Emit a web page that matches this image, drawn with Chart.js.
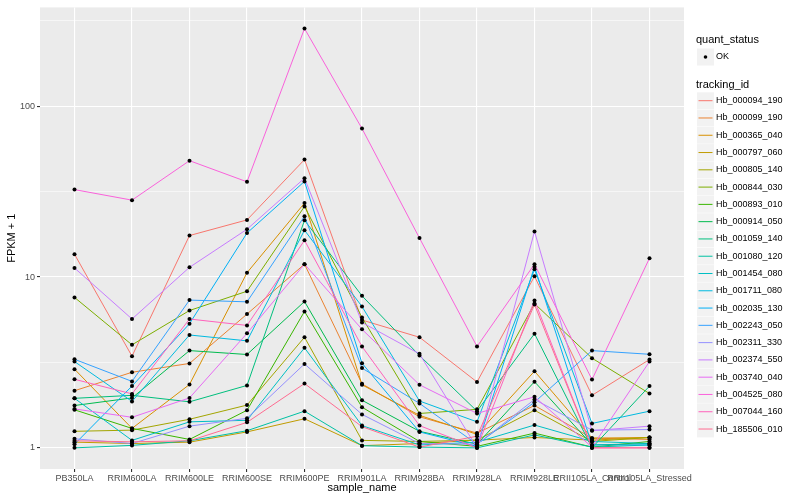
<!DOCTYPE html>
<html>
<head>
<meta charset="utf-8">
<script src="https://cdn.jsdelivr.net/npm/chart.js@4/dist/chart.umd.min.js"></script>
<style>
  html, body { margin: 0; padding: 0; background: #fff; }
  #wrap { width: 800px; height: 500px; position: relative; }
</style>
</head>
<body>
<div id="wrap"><canvas id="myChart"></canvas></div>
<script>
// categories on the x axis
const categories = [
  'PB350LA', 'RRIM600LA', 'RRIM600LE', 'RRIM600SE', 'RRIM600PE', 'RRIM901LA',
  'RRIM928BA', 'RRIM928LA', 'RRIM928LE', 'RRII105LA_Control', 'RRII105LA_Stressed'
];

const trackingIds = [
  'Hb_000094_190', 'Hb_000099_190', 'Hb_000365_040', 'Hb_000797_060', 'Hb_000805_140',
  'Hb_000844_030', 'Hb_000893_010', 'Hb_000914_050', 'Hb_001059_140', 'Hb_001080_120',
  'Hb_001454_080', 'Hb_001711_080', 'Hb_002035_130', 'Hb_002243_050', 'Hb_002311_330',
  'Hb_002374_550', 'Hb_003740_040', 'Hb_004525_080', 'Hb_007044_160', 'Hb_185506_010'
];

// FPKM + 1, one array per gene, in category order
const hb_000094_190 = [13.6, 3.44, 17.5, 21.6, 48.7, 5.6, 4.44, 2.43, 10.1, 2.03, 3.29];
const hb_000099_190 = [2.16, 2.77, 3.12, 6.07, 11.9, 2.37, 1.52, 1.22, 1.77, 1.14, 1.12];
const hb_000365_040 = [2.89, 1.30, 2.35, 10.6, 27.1, 2.34, 1.55, 1.20, 2.81, 1.14, 1.15];
const hb_000797_060 = [1.08, 1.06, 1.08, 1.24, 1.48, 1.03, 1.06, 1.11, 1.15, 1.11, 1.15];
const hb_000805_140 = [1.25, 1.27, 1.47, 1.78, 4.44, 1.106, 1.09, 1.11, 1.66, 1.09, 1.15];
const hb_000844_030 = [7.6, 4.01, 6.37, 8.26, 25.9, 5.8, 1.59, 1.68, 7.0, 3.35, 2.08];
const hb_000893_010 = [1.67, 1.30, 1.12, 1.66, 6.29, 1.73, 1.09, 1.02, 1.22, 1.01, 1.09];
const hb_000914_050 = [1.77, 1.96, 3.71, 3.52, 7.19, 1.90, 1.25, 1.05, 2.44, 1.04, 1.06];
const hb_001059_140 = [1.95, 2.03, 1.86, 2.32, 21.5, 7.76, 3.47, 1.64, 4.66, 1.0, 2.30];
const hb_001080_120 = [1.0, 1.034, 1.10, 1.26, 1.64, 1.03, 1.01, 1.0, 1.19, 1.01, 1.04];
const hb_001454_080 = [1.95, 1.106, 1.42, 1.45, 3.85, 1.35, 1.04, 1.08, 1.36, 1.09, 1.06];
const hb_001711_080 = [3.2, 1.87, 4.58, 4.23, 18.8, 6.72, 1.88, 1.42, 11.1, 1.39, 1.64];
const hb_002035_130 = [1.05, 2.30, 5.33, 18.1, 36.3, 3.13, 1.24, 1.02, 11.5, 1.04, 1.04];
const hb_002243_050 = [3.3, 2.45, 7.33, 7.16, 22.7, 2.93, 1.82, 1.05, 1.85, 3.71, 3.53];
const hb_002311_330 = [1.13, 1.06, 1.34, 1.49, 3.10, 1.57, 1.06, 1.05, 1.92, 1.27, 1.28];
const hb_002374_550 = [11.3, 5.68, 11.4, 19.05, 37.9, 5.42, 3.55, 1.0, 18.5, 1.26, 1.34];
const hb_003740_040 = [1.69, 1.51, 1.96, 4.68, 11.9, 4.94, 2.34, 1.59, 1.99, 1.01, 3.2];
const hb_004525_080 = [32.5, 28.2, 48, 36.1, 285, 74, 16.9, 3.92, 11.9, 2.51, 12.9];
const hb_007044_160 = [2.52, 2.07, 5.68, 5.21, 16.4, 3.92, 1.35, 1.0, 7.3, 1.0, 1.0];
const hb_185506_010 = [1.10, 1.085, 1.10, 1.41, 2.38, 1.33, 1.01, 1.17, 6.9, 1.0, 1.0];

const seriesValues = [
  hb_000094_190, hb_000099_190, hb_000365_040, hb_000797_060, hb_000805_140,
  hb_000844_030, hb_000893_010, hb_000914_050, hb_001059_140, hb_001080_120,
  hb_001454_080, hb_001711_080, hb_002035_130, hb_002243_050, hb_002311_330,
  hb_002374_550, hb_003740_040, hb_004525_080, hb_007044_160, hb_185506_010
];

// y axis breaks (log10)
const yMajor = [1, 10, 100];
const yMinor = [3.1623, 31.623, 316.23];

// ggplot default hue palette, 20 levels
const colors = [
  '#F8766D', '#EA8331', '#D89000', '#C09B00', '#A3A500', '#7CAE00', '#39B600', '#00BB4E',
  '#00BF7D', '#00C1A3', '#00BFC4', '#00BAE0', '#00B0F6', '#35A2FF', '#9590FF', '#C77CFF',
  '#E76BF3', '#FA62DB', '#FF62BC', '#FF6C91'
];

const FONT = "'Liberation Sans', Arial, sans-serif";

const toPoints = (arr) => arr.map((v, i) => ({ x: i, y: v }));

const datasets = [];
// lines first in the array but drawn under the points (order)
seriesValues.forEach((vals, i) => {
  datasets.push({
    label: trackingIds[i],
    data: toPoints(vals),
    borderColor: colors[i],
    borderWidth: 1,
    pointRadius: 0,
    fill: false,
    tension: 0,
    order: 100 - i
  });
});
seriesValues.forEach((vals, i) => {
  datasets.push({
    label: 'pts_' + trackingIds[i],
    data: toPoints(vals),
    showLine: false,
    pointRadius: 2,
    pointBackgroundColor: '#000',
    pointBorderWidth: 0,
    order: 0
  });
});

// grey panel behind the grid
const panelBg = {
  id: 'panelBg',
  beforeDraw(chart) {
    const { ctx, chartArea: a } = chart;
    ctx.save();
    ctx.fillStyle = '#EBEBEB';
    ctx.fillRect(a.left, a.top, a.right - a.left, a.bottom - a.top);
    ctx.restore();
  }
};

// ggplot style legend on the right
const ggLegend = {
  id: 'ggLegend',
  afterDraw(chart) {
    const ctx = chart.ctx;
    const x0 = 696;
    ctx.save();
    ctx.textBaseline = 'middle';
    ctx.textAlign = 'left';
    ctx.fillStyle = '#000';
    ctx.font = '11px ' + FONT;
    ctx.fillText('quant_status', x0, 40);

    // OK key
    ctx.fillStyle = '#F2F2F2';
    ctx.fillRect(697, 48.5, 17, 17);
    ctx.fillStyle = '#000';
    ctx.beginPath();
    ctx.arc(705.5, 57, 1.8, 0, Math.PI * 2);
    ctx.fill();
    ctx.font = '9px ' + FONT;
    ctx.fillText('OK', 716, 57);

    ctx.font = '11px ' + FONT;
    ctx.fillText('tracking_id', x0, 84.5);

    ctx.font = '9px ' + FONT;
    trackingIds.forEach((id, i) => {
      const cy = 100.7 + i * 17.28;
      ctx.fillStyle = '#F2F2F2';
      ctx.fillRect(697, cy - 8.4, 17, 16.8);
      ctx.strokeStyle = colors[i];
      ctx.lineWidth = 1;
      ctx.beginPath();
      ctx.moveTo(698.5, cy);
      ctx.lineTo(712.5, cy);
      ctx.stroke();
      ctx.fillStyle = '#000';
      ctx.fillText(id, 716, cy);
    });
    ctx.restore();
  }
};

const config = {
  type: 'line',
  data: { datasets: datasets },
  options: {
    responsive: false,
    animation: false,
    layout: { padding: { top: 5, right: 116, bottom: 0, left: 0 } },
    plugins: {
      legend: { display: false },
      tooltip: { enabled: false }
    },
    scales: {
      x: {
        type: 'linear',
        min: -0.6,
        max: 10.6,
        afterBuildTicks: (s) => { s.ticks = categories.map((c, i) => ({ value: i })); },
        afterFit: (s) => { s.height = 31; },
        ticks: {
          autoSkip: false,
          maxRotation: 0,
          minRotation: 0,
          padding: 1,
          color: '#4D4D4D',
          font: { family: FONT, size: 9 },
          callback: (v) => categories[v]
        },
        grid: {
          color: '#FFFFFF',
          lineWidth: 1.1,
          tickLength: 3,
          tickColor: '#333333'
        },
        border: { display: false },
        title: {
          display: true,
          text: 'sample_name',
          color: '#000',
          font: { family: FONT, size: 11 },
          padding: { top: 0, bottom: 5 }
        }
      },
      y: {
        type: 'logarithmic',
        min: 0.752,
        max: 379,
        afterBuildTicks: (s) => {
          s.ticks = yMajor.concat(yMinor).sort((a, b) => a - b).map(v => ({ value: v }));
        },
        afterFit: (s) => { s.width = 40; },
        ticks: {
          autoSkip: false,
          padding: 2,
          color: '#4D4D4D',
          font: { family: FONT, size: 9 },
          callback: (v) => yMajor.includes(v) ? String(v) : ''
        },
        grid: {
          color: '#FFFFFF',
          lineWidth: (c) => (c.tick && yMajor.includes(c.tick.value)) ? 1.1 : 0.55,
          tickLength: 3,
          tickColor: (c) => (c.tick && yMajor.includes(c.tick.value)) ? '#333333' : 'rgba(0,0,0,0)'
        },
        border: { display: false },
        title: {
          display: true,
          text: 'FPKM + 1',
          color: '#000',
          font: { family: FONT, size: 11 },
          padding: { top: 5, bottom: 0 }
        }
      }
    }
  },
  plugins: [panelBg, ggLegend]
};

const canvas = document.getElementById('myChart');
canvas.width = 800;
canvas.height = 500;
const myChart = new Chart(canvas, config);
</script>
</body>
</html>
